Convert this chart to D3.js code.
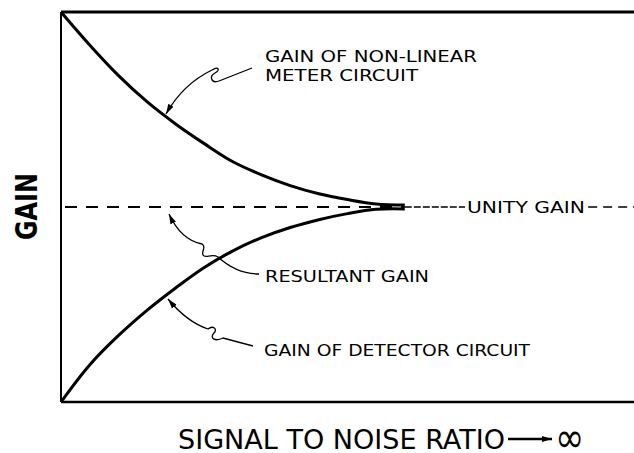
<!DOCTYPE html>
<html>
<head>
  <meta charset="UTF-8">
  <title>Gain vs signal to noise ratio</title>
  <style>
    body { margin: 0; background: #fff; }
    #chart text { font-family: "DejaVu Sans", sans-serif; fill: #000; }
    .label { font-size: 16px; }
    .title { font-family: "DejaVu Sans Condensed", "DejaVu Sans", sans-serif; font-size: 27px; }
  </style>
</head>
<body>
  <div id="chart"></div>
  <script src="https://d3js.org/d3.v7.min.js"></script>
  <script>
    // signal to noise steps (arbitrary units) and the two gains
    const snr = [0, 1, 2, 3, 4, 5, 6, 7, 8, 9, 10, 11, 12];
    const meterGain = [2.0, 1.831, 1.675, 1.540, 1.426, 1.325, 1.232, 1.165, 1.110, 1.068, 1.038, 1.015, 1.010];
    const detectorGain = [0, 0.190, 0.340, 0.470, 0.585, 0.690, 0.775, 0.843, 0.895, 0.935, 0.966, 0.988, 0.990];
    const unityGain = 1;

    const width = 634;
    const height = 453;
    const margin = { left: 61, top: 12, bottom: 51 };

    const x = d3.scaleLinear().domain([0, 20]).range([margin.left, width]);
    const y = d3.scaleLinear().domain([0, 2]).range([height - margin.bottom, margin.top]);

    const svg = d3.select("#chart").append("svg")
      .attr("width", width)
      .attr("height", height);

    svg.append("rect").attr("width", width).attr("height", height).attr("fill", "#fff");

    const defs = svg.append("defs");
    defs.append("marker")
      .attr("id", "head")
      .attr("viewBox", "0 0 10 6")
      .attr("refX", 10).attr("refY", 3)
      .attr("markerWidth", 10).attr("markerHeight", 6)
      .attr("markerUnits", "userSpaceOnUse")
      .attr("orient", "auto")
      .append("path").attr("d", "M0,0 L10,3 L0,6 Z").attr("fill", "#000");

    // frame: left, top and bottom edges
    svg.append("line")
      .attr("x1", x(0)).attr("x2", x(0))
      .attr("y1", y(2)).attr("y2", y(0))
      .attr("stroke", "#000").attr("stroke-width", 2);
    svg.append("line")
      .attr("x1", x(0)).attr("x2", x(20))
      .attr("y1", y(2)).attr("y2", y(2))
      .attr("stroke", "#000").attr("stroke-width", 3);
    svg.append("line")
      .attr("x1", x(0)).attr("x2", x(20))
      .attr("y1", y(0)).attr("y2", y(0))
      .attr("stroke", "#000").attr("stroke-width", 2.5);

    // unity gain reference
    svg.append("line")
      .attr("x1", x(0)).attr("x2", x(12))
      .attr("y1", y(unityGain)).attr("y2", y(unityGain))
      .attr("stroke", "#000").attr("stroke-width", 1.8)
      .attr("stroke-dasharray", "12,9").attr("stroke-dashoffset", -4);
    svg.append("line")
      .attr("x1", x(12)).attr("x2", x(14.1))
      .attr("y1", y(unityGain)).attr("y2", y(unityGain))
      .attr("stroke", "#000").attr("stroke-width", 1.6)
      .attr("stroke-dasharray", "7,2");
    svg.append("line")
      .attr("x1", x(18.4)).attr("x2", x(20))
      .attr("y1", y(unityGain)).attr("y2", y(unityGain))
      .attr("stroke", "#000").attr("stroke-width", 1.6)
      .attr("stroke-dasharray", "9,6");

    const line = d3.line()
      .x((d, i) => x(snr[i]))
      .y(d => y(d))
      .curve(d3.curveCatmullRom.alpha(0.5));

    svg.append("path").datum(meterGain)
      .attr("d", line)
      .attr("fill", "none").attr("stroke", "#000").attr("stroke-width", 3);
    svg.append("path").datum(detectorGain)
      .attr("d", line)
      .attr("fill", "none").attr("stroke", "#000").attr("stroke-width", 3);

    // leader lines with their little hooks
    const leaders = [
      "M252,68 L219,81 C211,84 209,76 215,73 C220,70 219,66 212,70 Q183,84 166,114",
      "M259,274 C242,274 229,267 218,257 C212,253 205,259 203,255 C201,251 207,247 202,244 Q181,240 169,214",
      "M253,346 L223,338 C215,342 209,338 214,333 C218,329 213,325 208,329 Q187,322 168,299"
    ];
    svg.selectAll(".leader").data(leaders).enter().append("path")
      .attr("class", "leader")
      .attr("d", d => d)
      .attr("fill", "none").attr("stroke", "#000").attr("stroke-width", 1.3)
      .attr("marker-end", "url(#head)");

    const labels = [
      { text: "GAIN OF NON-LINEAR", x: 265, y: 62, len: 212 },
      { text: "METER CIRCUIT", x: 265, y: 81, len: 153 },
      { text: "UNITY GAIN", x: 467, y: 213, len: 118 },
      { text: "RESULTANT GAIN", x: 265, y: 282, len: 164 },
      { text: "GAIN OF DETECTOR CIRCUIT", x: 264, y: 356, len: 266 }
    ];
    svg.selectAll(".label").data(labels).enter().append("text")
      .attr("class", "label")
      .attr("x", d => d.x).attr("y", d => d.y)
      .attr("textLength", d => d.len)
      .attr("lengthAdjust", "spacingAndGlyphs")
      .text(d => d.text);

    // axis titles
    svg.append("text")
      .attr("class", "title")
      .attr("transform", "translate(37,240) rotate(-90)")
      .attr("textLength", 67)
      .attr("lengthAdjust", "spacingAndGlyphs")
      .style("font-weight", "bold")
      .style("font-size", "30px")
      .text("GAIN");

    svg.append("text")
      .attr("class", "title")
      .attr("x", 178).attr("y", 449)
      .attr("textLength", 327)
      .attr("lengthAdjust", "spacingAndGlyphs")
      .text("SIGNAL TO NOISE RATIO");
    svg.append("line")
      .attr("x1", 508).attr("x2", 552)
      .attr("y1", 439).attr("y2", 439)
      .attr("stroke", "#000").attr("stroke-width", 2.5)
      .attr("marker-end", "url(#head)");
    svg.append("text")
      .attr("class", "title")
      .attr("x", 555).attr("y", 452)
      .attr("textLength", 29)
      .attr("lengthAdjust", "spacingAndGlyphs")
      .style("font-size", "42px")
      .text("∞");
  </script>
</body>
</html>
